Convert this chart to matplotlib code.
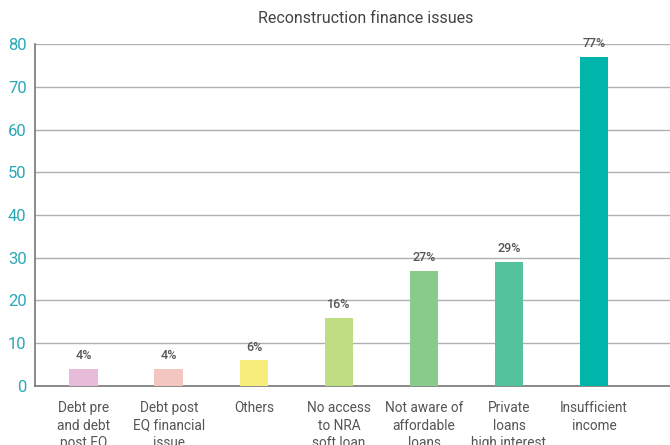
import matplotlib
matplotlib.use("Agg")
import matplotlib.pyplot as plt

categories = [
    "Debt pre\nand debt\npost EQ",
    "Debt post\nEQ financial\nissue",
    "Others",
    "No access\nto NRA\nsoft loan",
    "Not aware of\naffordable\nloans",
    "Private\nloans\nhigh interest",
    "Insufficient\nincome",
]
values = [4, 4, 6, 16, 27, 29, 77]
colors = ["#e6bcd9", "#f3c7bf", "#f6ee7b", "#bfdd82", "#89cb8b", "#55c29e", "#00b5a9"]
yticks = [0, 10, 20, 30, 40, 50, 60, 70, 80]

plt.rcParams["font.family"] = ["Roboto", "DejaVu Sans"]

fig = plt.figure(figsize=(6.7, 4.45), dpi=100)
ax = fig.add_axes([0.0522, 0.1326, 0.9478, 0.7685])

x = list(range(len(categories)))
ax.bar(x, values, width=0.34, color=colors, zorder=3)
for xi, v in zip(x, values):
    ax.text(xi, v + 1.6, f"{v}%", ha="center", va="bottom", fontsize=9,
            color="#555555", fontweight="medium")

ax.set_xlim(-0.576, 6.894)
ax.set_ylim(0, 80)
ax.set_yticks(yticks)
ax.set_xticks(x)
ax.set_xticklabels(categories, fontsize=9.8, color="#555555", linespacing=1.3)
ax.tick_params(axis="y", length=0, labelsize=12, labelcolor="#2aa8b8", pad=6)
ax.tick_params(axis="x", length=0, pad=11)
ax.grid(axis="y", color="#b0b0b0", linewidth=1.0, zorder=0)
for side in ("top", "right"):
    ax.spines[side].set_visible(False)
ax.spines["left"].set_color("#777777")
ax.spines["bottom"].set_color("#777777")
ax.spines["left"].set_linewidth(1.2)
ax.spines["bottom"].set_linewidth(1.2)

fig.text(0.546, 0.958, "Reconstruction finance issues", ha="center", va="center",
         fontsize=11.5, color="#444444")

fig.savefig("out.png", dpi=100)
